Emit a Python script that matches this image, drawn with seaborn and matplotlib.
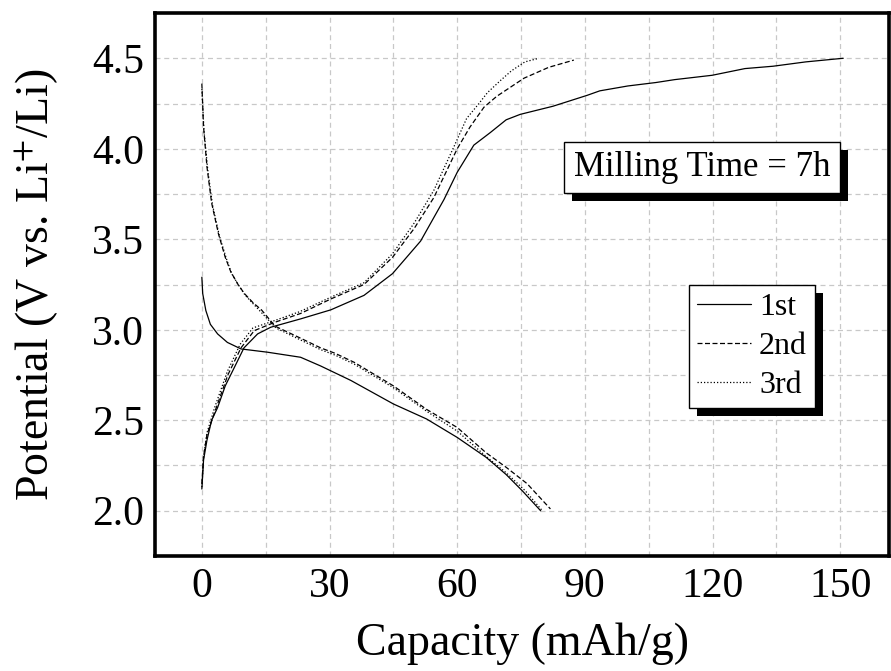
import numpy as np
import seaborn as sns
import matplotlib.pyplot as plt
from matplotlib.patches import Rectangle
from matplotlib.transforms import IdentityTransform
from matplotlib.ticker import MultipleLocator

# data (capacity mAh/g, potential V)
c1_chg_x = [0, 0.4, 1.2, 2.3, 3.7, 5.5, 7.6, 9.9, 13.1, 16.2, 23.2, 30.3, 38.1, 44.8, 51.4, 56.9, 60,
            63.9, 67.8, 71.5, 74.8, 82.5, 90.5, 93.5, 100.1, 106.7, 111.1, 119.9, 127.6, 134.2, 141.9, 150.7]
c1_chg_y = [2.12, 2.28, 2.39, 2.50, 2.57, 2.69, 2.79, 2.90, 2.977, 3.014, 3.06, 3.11, 3.19, 3.31, 3.49, 3.72, 3.87,
            4.02, 4.09, 4.16, 4.19, 4.235, 4.295, 4.32, 4.347, 4.366, 4.382, 4.406, 4.443, 4.456, 4.48, 4.50]
c1_dis_x = [0, 0.2, 0.94, 2, 3.7, 6, 9.2, 15.4, 23.2, 27.9, 35, 45, 52.8, 60, 66.8, 71.5, 75.3, 79.6]
c1_dis_y = [3.29, 3.2, 3.106, 3.03, 2.977, 2.93, 2.894, 2.876, 2.848, 2.80, 2.72, 2.59, 2.507, 2.405, 2.295,
            2.20, 2.11, 2.0]

c2_chg_x = [0, 0.4, 1.2, 3.1, 6.1, 9.2, 12.3, 17, 23.2, 30.3, 38.1, 44.8, 49.9, 54.5, 60, 63, 66.3, 69.3,
            75.7, 81.5, 87.4]
c2_chg_y = [2.15, 2.3, 2.42, 2.55, 2.75, 2.90, 2.995, 3.04, 3.09, 3.17, 3.25, 3.40, 3.56, 3.73, 4.0, 4.12, 4.23,
            4.29, 4.39, 4.45, 4.49]
c2_dis_x = [0, 0.4, 1.2, 2.3, 3.9, 5.5, 6.8, 8.5, 10, 12, 14, 17.2, 23.5, 27.9, 31.3, 35.8, 45, 52.8, 60,
            66.8, 71.5, 76.4, 81.9]
c2_dis_y = [4.36, 4.12, 3.90, 3.70, 3.53, 3.40, 3.32, 3.25, 3.20, 3.15, 3.11, 3.02, 2.95, 2.90, 2.87, 2.82,
            2.69, 2.56, 2.46, 2.32, 2.24, 2.15, 2.01]

c3_chg_x = [0, 0.4, 1.2, 3, 6, 9, 12, 17, 23, 30.3, 38.1, 44.8, 49.9, 54.5, 59.2, 62.2, 65.1, 67.1, 70.2,
            72.7, 75.9, 79.2]
c3_chg_y = [2.13, 2.3, 2.43, 2.57, 2.77, 2.92, 3.01, 3.05, 3.10, 3.18, 3.26, 3.42, 3.59, 3.77, 4.01, 4.167,
            4.25, 4.31, 4.378, 4.43, 4.48, 4.50]
c3_dis_x = [0, 0.5, 1.4, 2.5, 4.1, 5.8, 7, 8.8, 10.2, 12.2, 14.2, 17.4, 23.5, 27.9, 31.3, 35.8, 45, 52.8,
            60, 66.8, 71.5, 76, 80]
c3_dis_y = [4.33, 4.1, 3.88, 3.69, 3.52, 3.39, 3.31, 3.24, 3.19, 3.14, 3.09, 3.01, 2.94, 2.89, 2.86, 2.81,
            2.68, 2.55, 2.44, 2.30, 2.21, 2.11, 2.0]

cycle_labels = ['1st', '2nd', '3rd']

sns.set_style('white')
plt.rcParams['font.family'] = ['Liberation Serif', 'DejaVu Serif']
plt.rcParams['mathtext.fontset'] = 'stix'
for k in ['text.color', 'axes.labelcolor', 'xtick.color', 'ytick.color']:
    plt.rcParams[k] = 'black'

fig = plt.figure(figsize=(8.91, 6.71), dpi=100)
ax = fig.add_axes([0.174, 0.1714, 0.824, 0.8092])

styles = ['-', (0, (4, 2)), (0, (1, 1.6))]
curves = [(c1_chg_x, c1_chg_y, c1_dis_x, c1_dis_y),
          (c2_chg_x, c2_chg_y, c2_dis_x, c2_dis_y),
          (c3_chg_x, c3_chg_y, c3_dis_x, c3_dis_y)]
for (cx, cy, dx, dy), ls, lab in zip(curves, styles, cycle_labels):
    sns.lineplot(x=cx, y=cy, sort=False, estimator=None, color='black', linestyle=ls,
                 linewidth=0.9, label=lab, ax=ax)
    sns.lineplot(x=dx, y=dy, sort=False, estimator=None, color='black', linestyle=ls,
                 linewidth=0.9, ax=ax)

ax.set_xlim(-11, 161.5)
ax.set_ylim(1.75, 4.75)
ax.xaxis.set_major_locator(MultipleLocator(30))
ax.xaxis.set_minor_locator(MultipleLocator(15))
ax.yaxis.set_major_locator(MultipleLocator(0.5))
ax.yaxis.set_minor_locator(MultipleLocator(0.25))
ax.set_axisbelow(True)
ax.grid(which='both', color='#c8c8c8', linestyle=(0, (4, 3)), linewidth=0.9)

for s in ax.spines.values():
    s.set_linewidth(2.6)
    s.set_color('black')
ax.tick_params(which='major', direction='in', length=9, width=2.6, labelsize=30, pad=8)
ax.tick_params(which='minor', direction='in', length=5, width=2, pad=8)
ax.tick_params(top=False, right=False, which='both')

ax.set_xlabel('Capacity (mAh/g)', fontsize=33, labelpad=12)
ax.set_ylabel(r'Potential (V vs. Li$^{+}$/Li)', fontsize=33, labelpad=22)

leg = ax.legend(loc='upper left', bbox_to_anchor=(0.727, 0.5), fontsize=23, frameon=True,
                fancybox=False, edgecolor='black', framealpha=1, handlelength=1.7,
                handletextpad=0.25, borderpad=0.25, labelspacing=0.3, borderaxespad=0)
leg.get_frame().set_linewidth(1)

txt = ax.text(0.745, 0.7155, 'Milling Time = 7h', transform=ax.transAxes, fontsize=25,
              ha='center', va='center', zorder=6,
              bbox=dict(boxstyle='square,pad=0.27', fc='white', ec='black', lw=1))

# black drop shadows behind the legend and the text box
fig.canvas.draw()
for patch, z in [(leg.get_frame(), 4.5), (txt.get_bbox_patch(), 5.5)]:
    bb = patch.get_window_extent()
    ax.add_patch(Rectangle((bb.x0 + 8, bb.y0 - 8), bb.width, bb.height, transform=IdentityTransform(),
                           fc='black', ec='none', zorder=z))

fig.savefig('out.png', dpi=100)
